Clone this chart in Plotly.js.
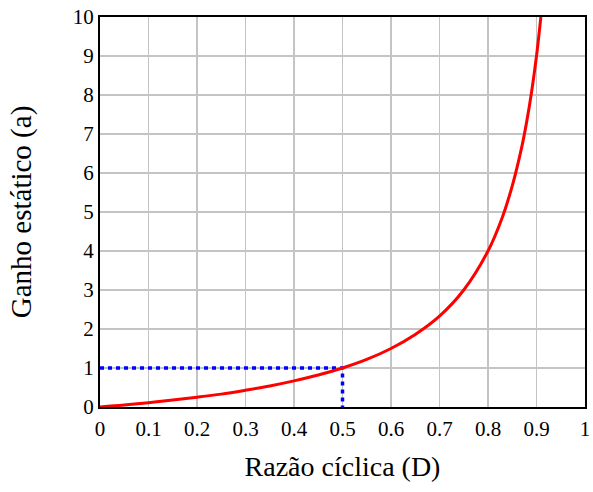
<!DOCTYPE html>
<html>
<head>
<meta charset="utf-8">
<script src="https://cdn.plot.ly/plotly-3.0.1.min.js"></script>
<style>html,body{margin:0;padding:0;background:#fff;}#chart{width:593px;height:492px;}</style>
</head>
<body>
<div id="chart"></div>
<script>
// Values
const dutyCycle = [0, 0.05, 0.1, 0.15, 0.2, 0.25, 0.3, 0.35, 0.4, 0.45, 0.5, 0.55, 0.6, 0.65, 0.7, 0.75, 0.8, 0.83, 0.85, 0.87, 0.88, 0.89, 0.9, 0.909];
const staticGain = [0, 0.05, 0.11, 0.18, 0.25, 0.33, 0.43, 0.54, 0.67, 0.82, 1.0, 1.22, 1.5, 1.86, 2.33, 3.0, 4.0, 4.88, 5.67, 6.69, 7.33, 8.09, 9.0, 10.0];
const markerX = [0, 0.5, 0.5];
const markerY = [1, 1, 0];
const xTicks = [0, 0.1, 0.2, 0.3, 0.4, 0.5, 0.6, 0.7, 0.8, 0.9, 1];
const xTickLabels = ["0", "0.1", "0.2", "0.3", "0.4", "0.5", "0.6", "0.7", "0.8", "0.9", "1"];
const yTicks = [0, 1, 2, 3, 4, 5, 6, 7, 8, 9, 10];
const yTickLabels = ["0", "1", "2", "3", "4", "5", "6", "7", "8", "9", "10"];

const font = 'Liberation Serif';
const traces = [
  {x: markerX, y: markerY, mode: 'lines', line: {color: '#0000ff', width: 3.5, dash: '4px,4px'}, hoverinfo: 'none', cliponaxis: false},
  {x: dutyCycle, y: staticGain, mode: 'lines', line: {color: '#ff0000', width: 3, shape: 'spline'}, hoverinfo: 'none', cliponaxis: false}
];
const layout = {
  width: 593, height: 492,
  margin: {l: 100, r: 8, t: 17, b: 85},
  paper_bgcolor: '#fff', plot_bgcolor: '#fff',
  showlegend: false,
  font: {family: font, color: '#000', size: 20},
  xaxis: {
    range: [0, 1], tickvals: xTicks, ticktext: xTickLabels, ticks: '',
    showgrid: true, gridcolor: '#c4c4c4', gridwidth: 1.5, zeroline: false,
    showline: true, linecolor: '#000', linewidth: 2, mirror: true,
    ticklabelstandoff: 2,
    tickfont: {family: font, size: 21, color: '#000'},
    title: {text: 'Razão cíclica (D)', font: {family: font, size: 28, color: '#000'}, standoff: 16}
  },
  yaxis: {
    range: [0, 10], tickvals: yTicks, ticktext: yTickLabels, ticks: '',
    showgrid: true, gridcolor: '#c4c4c4', gridwidth: 1.5, zeroline: false,
    showline: true, linecolor: '#000', linewidth: 2, mirror: true,
    ticklabelstandoff: 0,
    tickfont: {family: font, size: 21, color: '#000'},
    title: {text: 'Ganho estático (a)', font: {family: font, size: 29, color: '#000'}, standoff: 33}
  }
};
Plotly.newPlot('chart', traces, layout, {staticPlot: true});
</script>
</body>
</html>
